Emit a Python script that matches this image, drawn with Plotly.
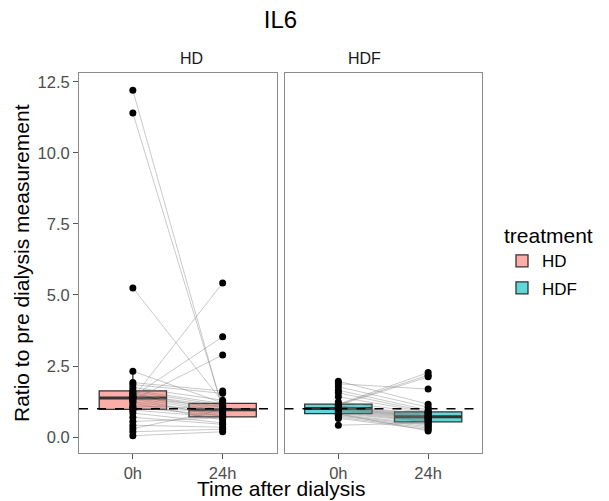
import numpy as np
import plotly.graph_objects as go

# ---------------- data ----------------
time_labels = ["0h", "24h"]
panels = ["HD", "HDF"]

hd_0h = [12.2, 11.4, 5.25, 2.32, 1.38, 1.43, 1.3, 1.92, 1.85, 1.75, 1.65, 1.6, 1.55, 1.5, 1.46, 1.41,
         1.39, 1.35, 1.25, 1.2, 1.1, 1.05, 1.0, 0.95, 0.85, 0.7, 0.55, 0.42, 0.3, 0.19, 0.05]
hd_24h = [0.98, 1.02, 1.24, 1.2, 5.42, 3.53, 2.89, 1.62, 1.54, 1.3, 1.18, 1.12, 0.95, 1.08, 0.9, 1.05,
          0.85, 0.72, 0.8, 0.6, 1.0, 0.75, 0.92, 0.7, 0.5, 0.45, 0.68, 0.35, 0.96, 0.28, 0.19]

hdf_0h = [1.97, 1.88, 1.77, 1.65, 1.56, 1.42, 1.24, 1.16, 1.14, 1.12, 1.1, 1.08, 1.05, 1.03, 1.01,
          0.99, 0.97, 0.95, 0.92, 0.89, 0.86, 0.83, 0.82, 0.8, 0.77, 0.74, 0.7, 0.66, 0.42]
hdf_24h = [1.16, 1.69, 1.05, 0.95, 0.89, 0.87, 0.85, 2.27, 2.18, 2.12, 0.82, 0.79, 0.76, 0.74, 0.72,
           0.7, 0.68, 0.65, 0.63, 0.6, 0.57, 0.54, 0.22, 0.46, 0.42, 0.37, 0.32, 0.27, 0.5]

reference_level = 1.0
fill_colors = {"HD": "rgba(248,118,109,0.6)", "HDF": "rgba(0,191,196,0.62)"}

FONT = "Liberation Sans, Arial, Helvetica, sans-serif"


def box_stats(values):
    a = np.asarray(values, dtype=float)
    q1, med, q3 = np.percentile(a, [25, 50, 75])
    iqr = q3 - q1
    lo = a[a >= q1 - 1.5 * iqr].min()
    hi = a[a <= q3 + 1.5 * iqr].max()
    return q1, med, q3, lo, hi


panel_data = {"HD": (hd_0h, hd_24h), "HDF": (hdf_0h, hdf_24h)}
xpos = [1, 2]

fig = go.Figure()

for i, name in enumerate(panels):
    xa = "x" if i == 0 else "x2"
    ya = "y" if i == 0 else "y2"
    v0, v1 = panel_data[name]
    s0, s1 = box_stats(v0), box_stats(v1)
    fig.add_trace(go.Box(
        x=xpos, q1=[s0[0], s1[0]], median=[s0[1], s1[1]], q3=[s0[2], s1[2]],
        lowerfence=[s0[3], s1[3]], upperfence=[s0[4], s1[4]],
        width=0.75, whiskerwidth=0, boxpoints=False,
        fillcolor=fill_colors[name], line=dict(color="#333333", width=1.3),
        name=name, legendgroup=name, showlegend=True, hoverinfo="skip",
        xaxis=xa, yaxis=ya,
    ))
    # thicker median bar (ggplot style)
    mx, my = [], []
    for xp, s in zip(xpos, (s0, s1)):
        mx += [xp - 0.375, xp + 0.375, None]
        my += [s[1], s[1], None]
    fig.add_trace(go.Scatter(x=mx, y=my, mode="lines", line=dict(color="#333333", width=3),
                             showlegend=False, hoverinfo="skip", xaxis=xa, yaxis=ya))
    # paired lines
    lx, ly = [], []
    for a, b in zip(v0, v1):
        lx += [xpos[0], xpos[1], None]
        ly += [a, b, None]
    fig.add_trace(go.Scatter(x=lx, y=ly, mode="lines",
                             line=dict(color="rgba(120,120,120,0.5)", width=0.8),
                             showlegend=False, hoverinfo="skip", xaxis=xa, yaxis=ya))
    # points
    fig.add_trace(go.Scatter(x=[xpos[0]] * len(v0) + [xpos[1]] * len(v1), y=list(v0) + list(v1),
                             mode="markers", marker=dict(color="black", size=7),
                             showlegend=False, hoverinfo="skip", xaxis=xa, yaxis=ya))

all_vals = hd_0h + hd_24h + hdf_0h + hdf_24h
vmin, vmax = min(all_vals), max(all_vals)
pad = 0.05 * (vmax - vmin)
yrange = [vmin - pad, vmax + pad]

W, H = 609, 501
ml, mr, mt, mb = 79, 127, 73, 48
pw = W - ml - mr
gap = 8 / pw
d1 = [0, (1 - gap) / 2]
d2 = [(1 + gap) / 2, 1]

axis_common = dict(showgrid=False, zeroline=False, showline=True, mirror=True,
                   linecolor="#8a8a8a", linewidth=1, ticks="outside", ticklen=5,
                   tickcolor="#555555", tickfont=dict(family=FONT, size=16.5, color="#4d4d4d"))

fig.update_layout(
    width=W, height=H,
    margin=dict(l=ml, r=mr, t=mt, b=mb, autoexpand=False),
    paper_bgcolor="white", plot_bgcolor="white",
    font=dict(family=FONT),
    title=dict(text="IL6", x=0.5, xref="paper", xanchor="center", y=1 - 20 / H, yanchor="middle",
               font=dict(family=FONT, size=24, color="black")),
    xaxis=dict(domain=d1, range=[0.4, 2.6], tickvals=xpos, ticktext=time_labels, anchor="y", **axis_common),
    xaxis2=dict(domain=d2, range=[0.4, 2.6], tickvals=xpos, ticktext=time_labels, anchor="y2", **axis_common),
    yaxis=dict(range=yrange, tickvals=[0, 2.5, 5, 7.5, 10, 12.5], tickformat=".1f", anchor="x", **axis_common),
    yaxis2=dict(range=yrange, matches="y", anchor="x2", showticklabels=False,
                **{k: v for k, v in axis_common.items() if k not in ("ticks",)}, ticks=""),
    legend=dict(title=dict(text="treatment", font=dict(family=FONT, size=21, color="black")),
                font=dict(family=FONT, size=17, color="black"),
                x=(502 - ml) / pw, xanchor="left", y=(H - mb - 216) / (H - mt - mb), yanchor="top",
                bgcolor="rgba(0,0,0,0)", tracegroupgap=2),
    showlegend=True,
)

for xa in ("x", "x2"):
    fig.add_shape(type="line", xref=f"{xa} domain", yref="y", x0=0, x1=1,
                  y0=reference_level, y1=reference_level,
                  line=dict(color="black", width=1.5, dash="dash"), layer="above")

for name, dom in zip(panels, (d1, d2)):
    fig.add_annotation(text=name, xref="paper", yref="paper", x=(dom[0] + dom[1]) / 2, y=1,
                       yanchor="middle", yshift=15, showarrow=False,
                       font=dict(family=FONT, size=16, color="#1a1a1a"))

fig.add_annotation(text="Time after dialysis", xref="paper", yref="paper", x=0.5, y=0,
                   yanchor="middle", yshift=-35, showarrow=False,
                   font=dict(family=FONT, size=21, color="black"))
fig.add_annotation(text="Ratio to pre dialysis measurement", xref="paper", yref="paper", x=0, y=0.5,
                   xanchor="center", xshift=-58, textangle=-90, showarrow=False,
                   font=dict(family=FONT, size=21, color="black"))

fig.write_html("out.html", config={"displayModeBar": False},
               post_script="document.body.style.margin='0px';document.body.style.overflow='hidden';")
